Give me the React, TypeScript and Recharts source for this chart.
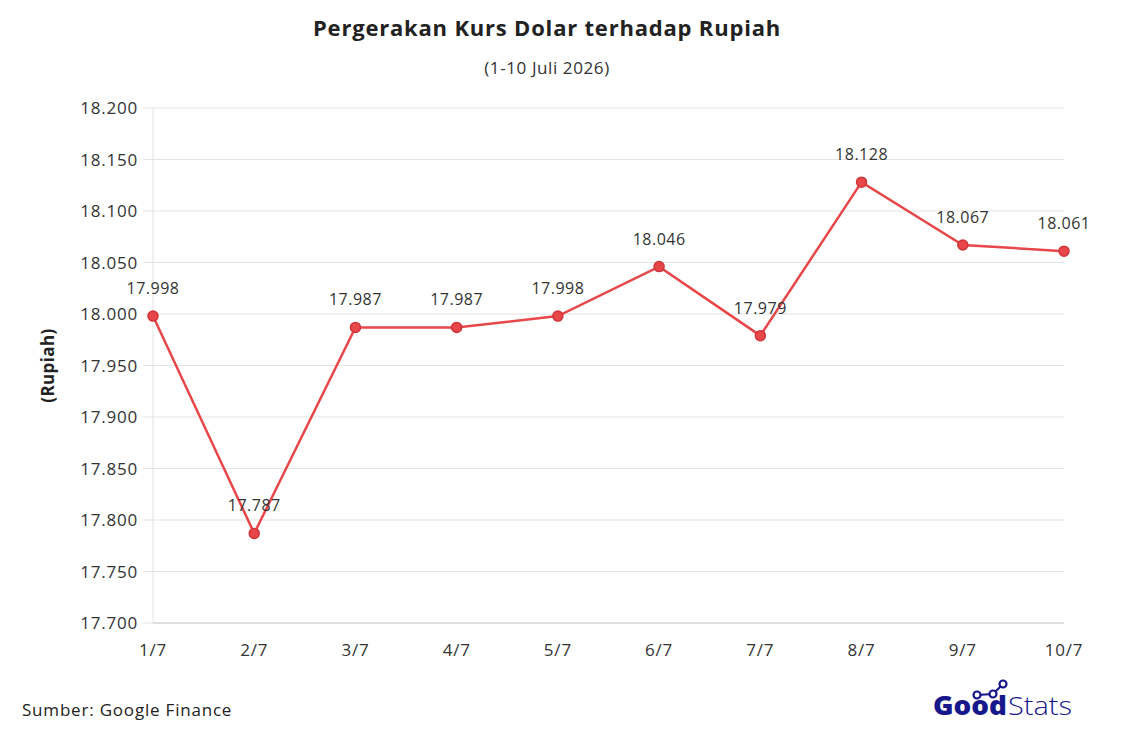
import React from 'react';
import { LineChart, Line, XAxis, YAxis, CartesianGrid, LabelList } from 'recharts';

const categories = ['1/7', '2/7', '3/7', '4/7', '5/7', '6/7', '7/7', '8/7', '9/7', '10/7'];
const rates = [17998, 17787, 17987, 17987, 17998, 18046, 17979, 18128, 18067, 18061];
const yTicks = [17700, 17750, 17800, 17850, 17900, 17950, 18000, 18050, 18100, 18150, 18200];

const data = categories.map((c, i) => ({ date: c, rate: rates[i] }));

const fmt = (v: number) => {
  const s = String(Math.round(v));
  return s.replace(/\B(?=(\d{3})+(?!\d))/g, '.');
};

const FONT = '"Open Sans", "Noto Sans", sans-serif';
const RED = '#e8474a';
const NAVY = '#17178c';

export default function App() {
  return (
    <div style={{ position: 'absolute', left: 0, top: 0, width: 1126, height: 739, background: '#fff', fontFamily: FONT }}>
      <div style={{ position: 'absolute', left: 0, width: 1094, top: 12, textAlign: 'center', fontSize: 22, fontWeight: 700, color: '#222', letterSpacing: 0.8 }}>
        Pergerakan Kurs Dolar terhadap Rupiah
      </div>
      <div style={{ position: 'absolute', left: 0, width: 1094, top: 56, textAlign: 'center', fontSize: 17, color: '#333', letterSpacing: 0.6 }}>
        (1-10 Juli 2026)
      </div>
      <LineChart width={1126} height={739} data={data} margin={{ top: 108, right: 62, bottom: 86, left: 93 }}>
        <CartesianGrid vertical={false} stroke="#e3e3e3" />
        <XAxis
          dataKey="date"
          height={30}
          tickLine={false}
          axisLine={{ stroke: '#cccccc' }}
          tick={{ fill: '#333', fontSize: 17, fontFamily: FONT, letterSpacing: 0.8 }}
          tickMargin={15}
          interval={0}
          padding={{ left: 0, right: 0 }}
        />
        <YAxis
          width={60}
          domain={[17700, 18200]}
          ticks={yTicks}
          tickFormatter={fmt}
          tickSize={10}
          tickMargin={5}
          tickLine={{ stroke: '#e3e3e3' }}
          axisLine={{ stroke: '#e3e3e3' }}
          tick={{ fill: '#333', fontSize: 17, fontFamily: FONT, letterSpacing: 0.8 }}
          label={{ value: '(Rupiah)', angle: -90, position: 'insideLeft', dx: -50, style: { fontSize: 17, fontWeight: 700, fill: '#222', fontFamily: FONT, textAnchor: 'middle', letterSpacing: 0.4 } }}
        />
        <Line
          type="linear"
          dataKey="rate"
          stroke={RED}
          strokeWidth={2.5}
          dot={{ r: 5, fill: RED, stroke: '#d03538', strokeWidth: 1.5 }}
          isAnimationActive={false}
        >
          <LabelList dataKey="rate" position="top" offset={22} formatter={fmt} style={{ fill: '#333', fontSize: 16, fontFamily: FONT, letterSpacing: 0.5 }} />
        </Line>
      </LineChart>
      <div style={{ position: 'absolute', left: 22, top: 698, fontSize: 17, color: '#222', letterSpacing: 0.8 }}>Sumber: Google Finance</div>
      <svg style={{ position: 'absolute', left: 925, top: 675 }} width={160} height={55}>
        <polyline points="52,20 68,19 78,9" fill="none" stroke={NAVY} strokeWidth={2.2} />
        {[[52, 20], [68, 19], [78, 9]].map(([x, y], i) => (
          <circle key={i} cx={x} cy={y} r={3.5} fill="#fff" stroke={NAVY} strokeWidth={2.2} />
        ))}
        <text x={8} y={40} fontSize={26} fontWeight={800} fill={NAVY} fontFamily={FONT} textLength={74} lengthAdjust="spacingAndGlyphs">Good</text>
        <text x={83} y={40} fontSize={26} fontWeight={300} fill={NAVY} fontFamily={FONT} textLength={64} lengthAdjust="spacingAndGlyphs">Stats</text>
      </svg>
    </div>
  );
}
